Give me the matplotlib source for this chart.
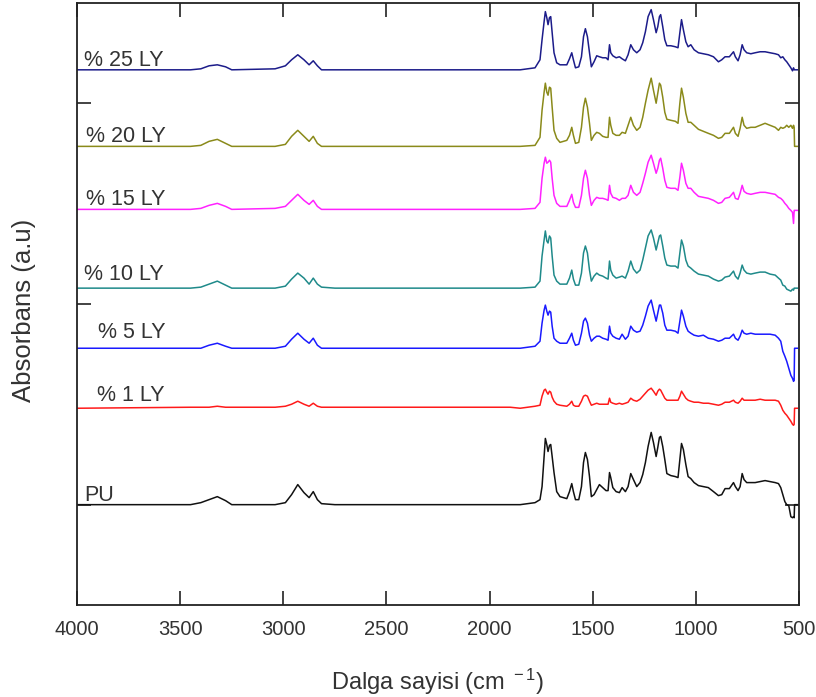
import numpy as np
import matplotlib.pyplot as plt

plt.rcParams['font.family'] = ['Liberation Sans', 'DejaVu Sans']
plt.rcParams['mathtext.default'] = 'regular'

# wavenumber grid (cm-1): N-H / C-H region, then fingerprint region
wn_high = [4000, 3450, 3400, 3360, 3320, 3280, 3250, 3040, 2990, 2960,
           2930, 2900, 2875, 2855, 2835, 2815, 2750, 1900]
wn_fp = [1852, 1780, 1756, 1746, 1736, 1730, 1723, 1717, 1710, 1704,
         1697, 1688, 1675, 1659, 1626, 1613, 1602, 1594, 1584, 1568,
         1555, 1545, 1536, 1526, 1516, 1507, 1494, 1481, 1468, 1452,
         1436, 1426, 1419, 1413, 1403, 1387, 1371, 1358, 1342, 1329,
         1316, 1303, 1287, 1271, 1258, 1245, 1232, 1217, 1206, 1193,
         1185, 1177, 1171, 1161, 1151, 1141, 1122, 1100, 1087, 1078,
         1070, 1061, 1049, 1038, 1025, 1009, 988, 964, 940, 915,
         891, 875, 859, 838, 818, 809, 796, 786, 776, 767,
         754, 734, 713, 689, 665, 641, 616, 600, 589, 579,
         569, 560, 550, 540, 532, 527, 524, 522, 508]
wavenumber = np.array(wn_high + wn_fp)

# absorbance above each trace's own baseline (a.u.)
ly25 = [0, 0, 0.01, 0.04, 0.05, 0.03, 0, 0.01, 0.04, 0.10,
        0.15, 0.10, 0.05, 0.09, 0.04, 0, 0, 0,
        0, 0.02, 0.10, 0.30, 0.48, 0.58, 0.52, 0.45, 0.52, 0.53,
        0.37, 0.17, 0.07, 0.05, 0.05, 0.11, 0.17, 0.10, 0.02, 0.03,
        0.13, 0.33, 0.41, 0.33, 0.17, 0.03, 0.08, 0.14, 0.13, 0.12,
        0.12, 0.10, 0.25, 0.17, 0.14, 0.12, 0.13, 0.11, 0.09, 0.15,
        0.25, 0.20, 0.17, 0.20, 0.27, 0.38, 0.53, 0.60, 0.50, 0.37,
        0.43, 0.53, 0.55, 0.43, 0.30, 0.24, 0.24, 0.23, 0.22, 0.37,
        0.50, 0.40, 0.28, 0.23, 0.25, 0.20, 0.17, 0.16, 0.15, 0.13,
        0.08, 0.10, 0.13, 0.13, 0.18, 0.13, 0.09, 0.15, 0.25, 0.20,
        0.17, 0.16, 0.17, 0.18, 0.18, 0.17, 0.16, 0.15, 0.12, 0.13,
        0.10, 0.08, 0.05, 0.02, -0.01, 0.02, 0.0, 0.0, 0.0]
ly20 = [0, 0, 0.01, 0.05, 0.07, 0.03, 0, 0, 0.02, 0.10,
        0.16, 0.10, 0.05, 0.10, 0.03, 0, 0, 0,
        0, 0.01, 0.09, 0.36, 0.54, 0.63, 0.54, 0.51, 0.59, 0.58,
        0.39, 0.16, 0.08, 0.04, 0.06, 0.11, 0.19, 0.11, 0.03, 0.04,
        0.19, 0.39, 0.48, 0.39, 0.23, 0.06, 0.11, 0.14, 0.13, 0.10,
        0.09, 0.09, 0.29, 0.21, 0.13, 0.11, 0.11, 0.14, 0.13, 0.21,
        0.29, 0.21, 0.16, 0.19, 0.29, 0.43, 0.56, 0.68, 0.56, 0.43,
        0.53, 0.63, 0.61, 0.49, 0.34, 0.27, 0.26, 0.25, 0.23, 0.43,
        0.58, 0.49, 0.33, 0.24, 0.24, 0.21, 0.17, 0.15, 0.13, 0.11,
        0.08, 0.09, 0.13, 0.13, 0.19, 0.13, 0.10, 0.18, 0.29, 0.21,
        0.18, 0.19, 0.19, 0.21, 0.23, 0.21, 0.19, 0.16, 0.19, 0.18,
        0.19, 0.21, 0.19, 0.21, 0.18, 0.21, 0.19, 0.0, 0.0]
ly15 = [0, 0, 0.01, 0.04, 0.06, 0.03, 0, 0.01, 0.03, 0.09,
        0.15, 0.09, 0.05, 0.09, 0.03, 0, 0, 0,
        0, 0.01, 0.07, 0.31, 0.46, 0.52, 0.46, 0.47, 0.49, 0.47,
        0.31, 0.14, 0.06, 0.03, 0.03, 0.09, 0.15, 0.07, 0.02, 0.02,
        0.14, 0.31, 0.39, 0.31, 0.14, 0.04, 0.09, 0.12, 0.11, 0.11,
        0.10, 0.09, 0.24, 0.16, 0.12, 0.11, 0.09, 0.11, 0.11, 0.14,
        0.24, 0.17, 0.14, 0.17, 0.26, 0.36, 0.47, 0.54, 0.46, 0.36,
        0.41, 0.49, 0.51, 0.41, 0.29, 0.22, 0.21, 0.21, 0.19, 0.32,
        0.46, 0.39, 0.26, 0.21, 0.21, 0.17, 0.13, 0.12, 0.11, 0.09,
        0.06, 0.07, 0.11, 0.12, 0.17, 0.11, 0.10, 0.16, 0.24, 0.18,
        0.16, 0.15, 0.16, 0.17, 0.17, 0.16, 0.15, 0.12, 0.11, 0.09,
        0.06, 0.04, 0.01, -0.01, -0.03, -0.14, -0.01, -0.01, -0.01]
ly10 = [0, 0, 0.01, 0.04, 0.07, 0.03, 0, 0, 0.02, 0.09,
        0.15, 0.10, 0.04, 0.10, 0.04, 0.01, 0, 0,
        0, 0.01, 0.07, 0.32, 0.48, 0.57, 0.47, 0.45, 0.52, 0.50,
        0.32, 0.13, 0.07, 0.04, 0.04, 0.10, 0.18, 0.09, 0.03, 0.03,
        0.15, 0.35, 0.42, 0.35, 0.18, 0.07, 0.12, 0.15, 0.13, 0.12,
        0.10, 0.09, 0.27, 0.18, 0.13, 0.10, 0.11, 0.12, 0.10, 0.17,
        0.27, 0.19, 0.15, 0.18, 0.28, 0.40, 0.52, 0.58, 0.50, 0.38,
        0.45, 0.52, 0.53, 0.42, 0.30, 0.23, 0.22, 0.22, 0.20, 0.35,
        0.48, 0.42, 0.28, 0.22, 0.20, 0.17, 0.14, 0.13, 0.12, 0.09,
        0.07, 0.08, 0.11, 0.12, 0.17, 0.12, 0.09, 0.15, 0.23, 0.18,
        0.15, 0.14, 0.15, 0.16, 0.16, 0.14, 0.13, 0.10, 0.08, 0.03,
        0.02, -0.01, -0.02, -0.03, -0.01, -0.02, 0.0, 0.0, 0.0]
ly5 = [0, 0, 0, 0.03, 0.05, 0.02, 0, 0, 0.02, 0.09,
       0.15, 0.09, 0.05, 0.10, 0.03, 0, 0, 0,
       0, 0.02, 0.07, 0.25, 0.38, 0.43, 0.37, 0.33, 0.37, 0.36,
       0.22, 0.10, 0.07, 0.05, 0.05, 0.10, 0.15, 0.08, 0.03, 0.04,
       0.15, 0.27, 0.30, 0.25, 0.13, 0.07, 0.10, 0.12, 0.12, 0.10,
       0.09, 0.08, 0.22, 0.15, 0.12, 0.10, 0.09, 0.14, 0.09, 0.12,
       0.22, 0.18, 0.16, 0.17, 0.23, 0.32, 0.42, 0.48, 0.38, 0.27,
       0.35, 0.43, 0.43, 0.35, 0.23, 0.18, 0.18, 0.17, 0.15, 0.27,
       0.38, 0.32, 0.22, 0.17, 0.15, 0.13, 0.12, 0.13, 0.10, 0.09,
       0.07, 0.08, 0.10, 0.10, 0.14, 0.10, 0.08, 0.12, 0.18, 0.15,
       0.14, 0.15, 0.14, 0.14, 0.14, 0.14, 0.13, 0.10, 0.07, -0.03,
       -0.08, -0.13, -0.20, -0.27, -0.30, -0.33, -0.32, 0.0, 0.0]
ly1 = [0, 0.01, 0.01, 0.01, 0.02, 0.01, 0.01, 0.01, 0.02, 0.04,
       0.07, 0.04, 0.02, 0.05, 0.02, 0.01, 0.01, 0.01,
       0, 0.02, 0.03, 0.12, 0.18, 0.19, 0.16, 0.14, 0.17, 0.16,
       0.11, 0.07, 0.04, 0.03, 0.02, 0.04, 0.07, 0.03, 0.02, 0.02,
       0.07, 0.12, 0.13, 0.12, 0.07, 0.03, 0.04, 0.05, 0.04, 0.04,
       0.04, 0.04, 0.10, 0.06, 0.05, 0.04, 0.05, 0.04, 0.05, 0.06,
       0.10, 0.08, 0.07, 0.09, 0.12, 0.15, 0.18, 0.20, 0.17, 0.13,
       0.17, 0.19, 0.18, 0.14, 0.10, 0.08, 0.08, 0.08, 0.08, 0.12,
       0.17, 0.14, 0.10, 0.08, 0.07, 0.06, 0.06, 0.05, 0.05, 0.04,
       0.03, 0.04, 0.06, 0.06, 0.08, 0.06, 0.05, 0.07, 0.10, 0.08,
       0.08, 0.08, 0.08, 0.09, 0.08, 0.08, 0.08, 0.07, 0.03, -0.02,
       -0.05, -0.07, -0.10, -0.13, -0.16, -0.17, -0.16, 0.0, 0.0]
pu = [0, 0, 0.02, 0.05, 0.08, 0.04, 0, 0, 0.02, 0.10,
      0.20, 0.12, 0.07, 0.13, 0.05, 0.01, 0, 0,
      0, 0.02, 0.05, 0.18, 0.48, 0.66, 0.60, 0.53, 0.59, 0.60,
      0.48, 0.32, 0.13, 0.08, 0.06, 0.13, 0.21, 0.13, 0.05, 0.05,
      0.18, 0.42, 0.52, 0.45, 0.28, 0.08, 0.10, 0.15, 0.20, 0.17,
      0.14, 0.14, 0.32, 0.27, 0.17, 0.13, 0.12, 0.17, 0.13, 0.18,
      0.31, 0.25, 0.18, 0.22, 0.30, 0.42, 0.58, 0.72, 0.62, 0.48,
      0.57, 0.67, 0.68, 0.58, 0.45, 0.31, 0.29, 0.28, 0.27, 0.45,
      0.61, 0.55, 0.40, 0.28, 0.26, 0.22, 0.19, 0.18, 0.17, 0.13,
      0.09, 0.10, 0.16, 0.16, 0.22, 0.18, 0.14, 0.18, 0.31, 0.25,
      0.22, 0.22, 0.22, 0.23, 0.24, 0.23, 0.22, 0.21, 0.17, 0.10,
      0.03, 0.0, -0.01, -0.12, -0.13, -0.12, -0.13, 0.0, 0.0]

labels = ['% 25 LY', '% 20 LY', '% 15 LY', '% 10 LY', '% 5 LY', '% 1 LY', 'PU']
spectra = [ly25, ly20, ly15, ly10, ly5, ly1, pu]
colors = ['#1c1c8a', '#8a8a1a', '#ff22ff', '#1f8a8a', '#1a1aff', '#ff1a1a', '#111111']
offsets = [5.334, 4.571, 3.943, 3.158, 2.559, 1.961, 1.0]
# where each name sits (wavenumber, height above its trace)
label_pos = [(3966, 0.04), (3956, 0.04), (3956, 0.045), (3966, 0.08),
             (3898, 0.10), (3903, 0.07), (3966, 0.04)]

fig = plt.figure(figsize=(8.16, 6.97), dpi=100)
ax = fig.add_axes([0.0944, 0.132, 0.8849, 0.8637])

for lab, a, c, off, (lx, ly) in zip(labels, spectra, colors, offsets, label_pos):
    ax.plot(wavenumber, off + np.array(a), color=c, lw=1.1)
    ax.text(lx, off + ly, lab, fontsize=15.5, color='#333333', va='baseline', ha='left')

ax.set_xlim(4000, 500)
ax.set_ylim(0, 6)
ax.set_xticks(np.arange(4000, 499, -500))
ax.set_yticks([1, 3, 5])
ax.set_yticklabels([])
ax.tick_params(direction='in', top=True, right=True, length=10, width=1.2,
               color='#222222', labelsize=14.5, labelcolor='#333333', pad=11)
for s in ax.spines.values():
    s.set_linewidth(1.3)
    s.set_color('#222222')

ax.set_xlabel('Dalga sayisi (cm$^{\\ -1}$)', fontsize=17, color='#333333', labelpad=20)
fig.text(0.030, 0.554, 'Absorbans (a.u)', rotation=90, fontsize=18.5, color='#333333',
         ha='center', va='center')

fig.savefig('out.png', dpi=100)
